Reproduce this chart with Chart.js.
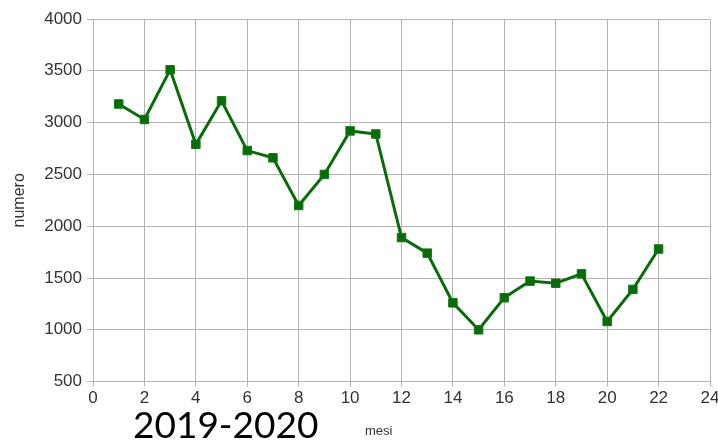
<!DOCTYPE html>
<html>
<head>
<meta charset="utf-8">
<script src="https://cdn.jsdelivr.net/npm/chart.js@4"></script>
<style>
  html, body { margin: 0; padding: 0; background: #fff; }
  #wrap { position: relative; width: 718px; height: 441px; }
  #year { position: absolute; left: 133px; top: 402px; font-family: Lato, sans-serif; font-size: 37px; color: #000; line-height: 44px; }
</style>
</head>
<body>
<div id="wrap">
  <canvas id="myChart" width="718" height="441"></canvas>
  <div id="year">2019-2020</div>
</div>
<script>
// mesi 1..22, numero per mese
const months = [1, 2, 3, 4, 5, 6, 7, 8, 9, 10, 11, 12, 13, 14, 15, 16, 17, 18, 19, 20, 21, 22];
const counts = [3180, 3030, 3510, 2790, 3210, 2730, 2660, 2200, 2500, 2920, 2890, 1890, 1740, 1260, 1000, 1310, 1470, 1450, 1540, 1080, 1390, 1780];

const tickFont = { family: "'Liberation Sans', Arial, sans-serif", size: 17 };
const green = '#0a6b0a';

function drawChart() {
    const ctx = document.getElementById('myChart').getContext('2d');
    new Chart(ctx, {
        type: 'line',
        data: {
            datasets: [{
                data: months.map(function (m, i) { return { x: m, y: counts[i] }; }),
                borderColor: green,
                backgroundColor: green,
                borderWidth: 3,
                pointStyle: 'rect',
                pointRadius: 6,
                pointBorderWidth: 1,
                pointBorderColor: '#0f7a0f',
                tension: 0,
                fill: false
            }]
        },
        options: {
            responsive: false,
            animation: false,
            layout: { padding: { top: 19, right: 0, left: 10, bottom: 30 } },
            plugins: {
                legend: { display: false },
                tooltip: { enabled: false }
            },
            scales: {
                x: {
                    type: 'linear',
                    min: 0,
                    max: 24,
                    afterFit: function (scale) { scale.paddingRight = 8; },
                    ticks: { stepSize: 2, color: '#333', font: tickFont, padding: 2, callback: function (v) { return String(v); } },
                    grid: { color: '#b3b3b3', tickLength: 5 },
                    border: { color: '#b3b3b3' },
                    title: { display: false }
                },
                y: {
                    min: 500,
                    max: 4000,
                    ticks: { stepSize: 500, color: '#333', font: tickFont, padding: 5, callback: function (v) { return String(v); } },
                    grid: { color: '#b3b3b3', tickLength: 6 },
                    border: { color: '#b3b3b3' },
                    title: {
                        display: true,
                        text: 'numero',
                        color: '#333',
                        font: { family: "'Liberation Sans', Arial, sans-serif", size: 16 },
                        padding: { top: 0, bottom: 10 }
                    }
                }
            }
        },
        plugins: [{
            id: 'mesiLabel',
            afterDraw: function (chart) {
                const c = chart.ctx;
                c.save();
                c.fillStyle = '#333';
                c.font = "13px 'Liberation Sans', Arial, sans-serif";
                c.textAlign = 'left';
                c.textBaseline = 'middle';
                c.fillText('mesi', 365, 431);
                c.restore();
            }
        }]
    });
}

drawChart();
</script>
</body>
</html>
